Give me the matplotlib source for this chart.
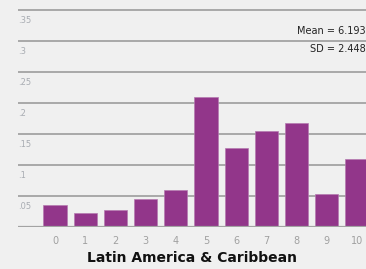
import matplotlib
matplotlib.use("Agg")
from matplotlib import pyplot as plt
from matplotlib import transforms as mtrans

# data
scores = [0, 1, 2, 3, 4, 5, 6, 7, 8, 9, 10]
shares = [0.0355, 0.0215, 0.0265, 0.044, 0.060, 0.210, 0.1265, 0.154, 0.168, 0.052, 0.109]
yticks = [0.05, 0.1, 0.15, 0.2, 0.25, 0.3, 0.35]
ytick_labels = [".05", ".1", ".15", ".2", ".25", ".3", ".35"]
region = "Latin America & Caribbean"
stats = ["Mean = 6.193", "SD = 2.448"]

bg = "#f0f0f0"
W, H = 366, 269
font = "DejaVu Sans"

fig = plt.figure(figsize=(W / 100, H / 100), dpi=100, facecolor=bg)
# axes box in pixels: left 18, right 366, bottom at 226.7 (zero line), top 0
ax = fig.add_axes([18 / W, (H - 226.7) / H, (W - 18) / W, 226.7 / H])
ax.set_facecolor(bg)
ax.set_xlim(-1.225, 10.3)
ax.set_ylim(0, 0.366)

for v in yticks:
    ax.axhline(v, color="#a3a3a3", lw=1.3, zorder=0)
ax.axhline(0, color="#a3a3a3", lw=1.6, zorder=3)

ax.bar(scores, shares, width=0.77, color="#92368a", edgecolor="#b57ab0", lw=0.5, zorder=2)

for s in ax.spines.values():
    s.set_visible(False)
ax.set_yticks([])
ax.set_xticks(scores)
ax.set_xticklabels([str(s) for s in scores], fontsize=7, color="#a0a0a0", family=font)
ax.tick_params(axis="x", length=0, pad=7)

# y labels sit just below their grid lines, at the left
tr = mtrans.blended_transform_factory(ax.transAxes, ax.transData)
for v, lab in zip(yticks, ytick_labels):
    ax.text(0.001, v - 0.0178, lab, transform=tr, fontsize=6, color="#a8acb2",
            ha="left", va="center", family=font)

ax.set_xlabel(region, fontsize=10, fontweight="bold", family=font, labelpad=3, color="#111111")

fig.text(366 / W, 1 - 31.5 / H, stats[0], ha="right", va="center", fontsize=7, family=font, color="#222222")
fig.text(366 / W, 1 - 49.3 / H, stats[1], ha="right", va="center", fontsize=7, family=font, color="#222222")

fig.savefig("out.png", dpi=100, facecolor=bg)
